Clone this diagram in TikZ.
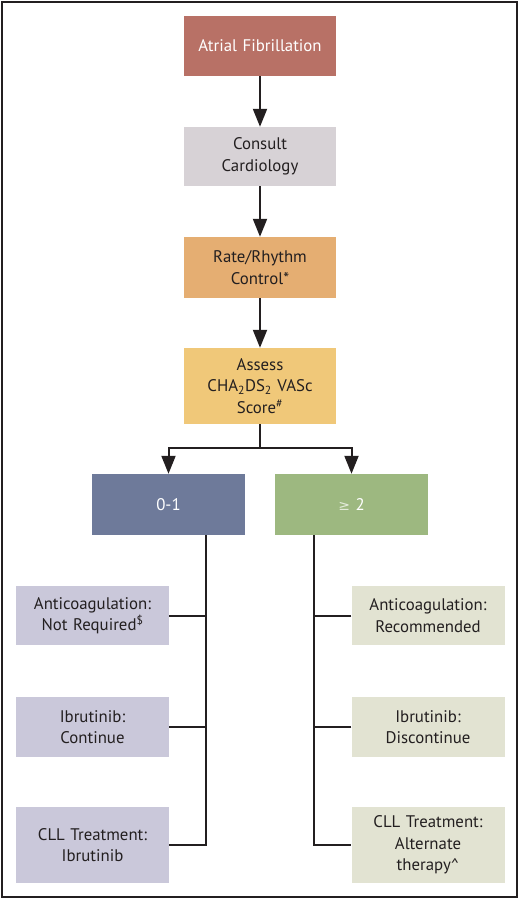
\documentclass[tikz,border=0pt]{standalone}
\usepackage{fontspec}
\setmainfont{PT Sans}
\newfontfamily\symfont{DejaVu Sans}
\usetikzlibrary{arrows.meta}
\definecolor{cAF}{HTML}{B87166}
\definecolor{cCC}{HTML}{D7D2D6}
\definecolor{cRR}{HTML}{E5AE72}
\definecolor{cAS}{HTML}{F0C879}
\definecolor{cLO}{HTML}{6E7A9A}
\definecolor{cHI}{HTML}{9DB880}
\definecolor{cLB}{HTML}{CAC8DA}
\definecolor{cRB}{HTML}{E2E3D2}
\definecolor{ink}{HTML}{231F20}
\tikzset{
  box/.style={rectangle, minimum width=152pt, text width=150pt, align=center, inner sep=0pt, font=\fontsize{16.8}{21.5}\selectfont, text=ink},
  conn/.style={line width=2pt, draw=ink},
  arr/.style={conn, -{Triangle[width=14pt,length=18pt]}},
}
\begin{document}
\begin{tikzpicture}[x=1pt,y=-1pt]
\useasboundingbox (0,0) rectangle (520,899);
\draw[line width=2pt, draw=ink] (2,2) rectangle (517,897);
% main column
\node[box, fill=cAF, text=white, minimum height=60pt] (af) at (260,46) {Atrial Fibrillation};
\node[box, fill=cCC, minimum height=59pt] (cc) at (260,156.5) {Consult\\Cardiology};
\node[box, fill=cRR, minimum height=61pt] (rr) at (260,267.5) {Rate/Rhythm\\Control*};
\node[box, fill=cAS, minimum height=76pt] (as) at (260,386) {Assess\\CHA\textsubscript{2}DS\textsubscript{2} VASc\\Score\textsuperscript{\#}};
% score boxes
\node[box, fill=cLO, text=white, minimum width=153pt, minimum height=61pt] (lo) at (168.5,504.5) {0-1};
\node[box, fill=cHI, text=white, minimum width=153pt, minimum height=61pt] (hi) at (351.5,504.5) {{\symfont\color{white!70!cHI}\fontsize{14}{16}\selectfont ≥} 2};
% left outcomes
\node[box, fill=cLB, minimum width=153pt, minimum height=59pt] (l1) at (92.5,615.5) {Anticoagulation:\\Not Required\textsuperscript{\$}};
\node[box, fill=cLB, minimum width=153pt, minimum height=60pt] (l2) at (92.5,727) {Ibrutinib:\\Continue};
\node[box, fill=cLB, minimum width=153pt, minimum height=76pt] (l3) at (92.5,845) {CLL Treatment:\\Ibrutinib};
% right outcomes
\node[box, fill=cRB, minimum width=153pt, minimum height=59pt] (r1) at (428,615.5) {Anticoagulation:\\Recommended};
\node[box, fill=cRB, minimum width=153pt, minimum height=60pt] (r2) at (428,727) {Ibrutinib:\\Discontinue};
\node[box, fill=cRB, minimum width=153pt, minimum height=76pt] (r3) at (428,845) {CLL Treatment:\\Alternate\\therapy\textasciicircum};
% connectors
\draw[arr] (af) -- (cc);
\draw[arr] (cc) -- (rr);
\draw[arr] (rr) -- (as);
\coordinate (split) at (260,448);
\draw[conn] (as.south) -- (split);
\draw[arr] (split) -| (lo.north);
\draw[arr] (split) -| (hi.north);
\coordinate (lbot) at (206,845);
\coordinate (rbot) at (314,845);
\draw[conn] (lo.south -| lbot) -- (lbot) -- (l3.east);
\draw[conn] (l1.east) -- (l1.east -| lbot);
\draw[conn] (l2.east) -- (l2.east -| lbot);
\draw[conn] (hi.south -| rbot) -- (rbot) -- (r3.west);
\draw[conn] (r1.west) -- (r1.west -| rbot);
\draw[conn] (r2.west) -- (r2.west -| rbot);
\end{tikzpicture}
\end{document}
